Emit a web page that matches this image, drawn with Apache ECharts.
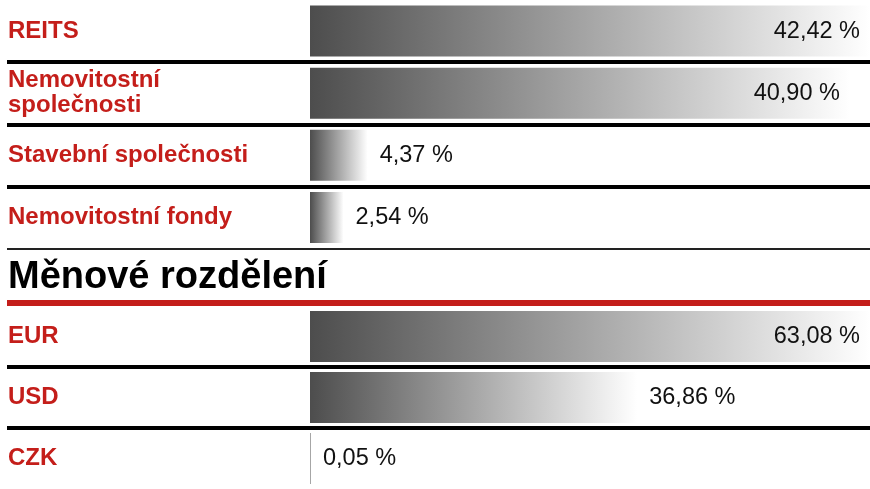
<!DOCTYPE html>
<html>
<head>
<meta charset="utf-8">
<script src="https://cdn.jsdelivr.net/npm/echarts@6/dist/echarts.min.js"></script>
<style>
  html, body { margin: 0; padding: 0; background: #fff; }
  #chart { width: 870px; height: 489px; }
</style>
</head>
<body>
<div id="chart"></div>
<script>
// sektorové rozdělení
const sectorNames = ['REITS', 'Nemovitostní\nspolečnosti', 'Stavební společnosti', 'Nemovitostní fondy'];
const sectorValues = [42.42, 40.90, 4.37, 2.54];

// měnové rozdělení
const currencyTitle = 'Měnové rozdělení';
const currencyNames = ['EUR', 'USD', 'CZK'];
const currencyValues = [63.08, 36.86, 0.05];

const RED = '#c41e1a';
const FONT = '"Liberation Sans", Arial, sans-serif';
// layout: labels column from LEFT, bars from BAR_START to RIGHT
const LEFT = 7, BAR_START = 310, RIGHT = 870;

const fmt = v => v.toFixed(2).replace('.', ',') + ' %';

// the widest bar of each block fills the whole column
function barData(values) {
  const max = Math.max(...values);
  return values.map(v => ({
    value: v,
    label: v / max > 0.7
      ? { position: 'insideRight', distance: 10 }
      : { position: 'right', distance: 12 },
  }));
}

// push value 0 to BAR_START so the split lines can span the label column
function axisRange(values) {
  const max = Math.max(...values);
  return { min: -max * (BAR_START - LEFT) / (RIGHT - BAR_START), max: max };
}

const gradient = {
  type: 'linear', x: 0, y: 0, x2: 1, y2: 0,
  colorStops: [
    { offset: 0, color: '#4d4d4d' },
    { offset: 1, color: '#ffffff' },
  ],
};

function catAxis(gridIndex, names) {
  return {
    gridIndex: gridIndex,
    type: 'category',
    data: names,
    inverse: true,
    axisLine: { show: false, onZero: false },
    axisTick: { show: false },
    axisLabel: {
      inside: true, margin: 1, interval: 0,
      color: RED, fontWeight: 'bold', fontSize: 24, lineHeight: 25, fontFamily: FONT,
    },
    splitLine: {
      show: true, interval: 0, showMinLine: false, showMaxLine: false,
      lineStyle: { color: '#000', width: 4, cap: 'butt' },
    },
  };
}

function valAxis(gridIndex, values, position, line) {
  const r = axisRange(values);
  return {
    gridIndex: gridIndex,
    type: 'value',
    min: r.min,
    max: r.max,
    position: position,
    offset: position === 'top' ? 3 : 0,
    axisLine: { show: true, onZero: false, lineStyle: Object.assign({ cap: 'butt' }, line) },
    axisTick: { show: false },
    axisLabel: { show: false },
    splitLine: { show: false },
  };
}

function barSeries(axisIndex, values) {
  return {
    type: 'bar',
    xAxisIndex: axisIndex,
    yAxisIndex: axisIndex,
    data: barData(values),
    barWidth: 51,
    barMinHeight: 1,
    itemStyle: { color: gradient },
    label: {
      show: true,
      formatter: p => fmt(p.value),
      color: '#111',
      fontSize: 23.5,
      fontFamily: FONT,
    },
  };
}

const chart = echarts.init(document.getElementById('chart'));
chart.setOption({
  animation: false,
  backgroundColor: '#fff',
  title: {
    text: currencyTitle,
    left: 8,
    top: 259,
    padding: 0,
    textStyle: { color: '#000', fontSize: 38, fontWeight: 'bold', fontFamily: FONT },
  },
  grid: [
    { left: LEFT, right: 0, top: -2.5, height: 251 },
    { left: LEFT, right: 0, top: 306, height: 189 },
  ],
  xAxis: [
    valAxis(0, sectorValues, 'bottom', { color: '#222', width: 2 }),
    valAxis(1, currencyValues, 'top', { color: RED, width: 6 }),
  ],
  yAxis: [
    catAxis(0, sectorNames),
    catAxis(1, currencyNames),
  ],
  series: [
    barSeries(0, sectorValues),
    barSeries(1, currencyValues),
  ],
});
</script>
</body>
</html>
